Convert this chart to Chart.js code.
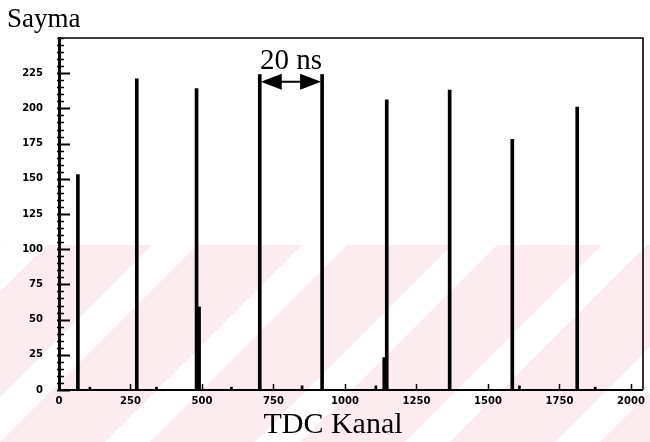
<!DOCTYPE html>
<html>
<head>
<meta charset="utf-8">
<script src="https://cdn.jsdelivr.net/npm/chart.js@4.4.1/dist/chart.umd.min.js"></script>
<style>
  html, body { margin: 0; padding: 0; background: #fff; }
  canvas { display: block; }
</style>
</head>
<body>
<canvas id="c" width="650" height="442"></canvas>
<script>
// TDC spectrum: counts per channel
const peakChannels = [66, 272, 481, 702, 920, 1146, 1366, 1585, 1812];
const peakCounts   = [153, 221, 214, 224, 224, 206, 213, 178, 201];
const shoulderChannels = [488, 1139];
const shoulderCounts   = [59, 23];
const bumpChannels = [108, 341, 603, 850, 1108, 1610, 1875];
const bumpCounts   = [2, 2, 2, 3, 3, 3, 2];

const xTickValues = [0, 250, 500, 750, 1000, 1250, 1500, 1750, 2000];
const yTickValues = [0, 25, 50, 75, 100, 125, 150, 175, 200, 225];
const yMinorStep = 5;

const yTitle = 'Sayma';
const xTitle = 'TDC Kanal';
const spanLabel = '20 ns';
const spanFrom = 702, spanTo = 920, spanLevel = 224, arrowLevel = 219;

const toPoints = (xs, ys) => xs.map((v, i) => ({ x: v, y: ys[i] }));

// pale diagonal background stripes in the lower part of the page
const backdrop = {
  id: 'backdrop',
  beforeDraw(chart) {
    const { ctx, width, height } = chart;
    ctx.save();
    ctx.fillStyle = '#fff';
    ctx.fillRect(0, 0, width, height);
    ctx.beginPath();
    ctx.rect(0, 245, width, height - 245);
    ctx.clip();
    ctx.fillStyle = '#fdecef';
    const period = 150, band = 105;
    for (let s = -600; s < width + 600; s += period) {
      ctx.beginPath();
      ctx.moveTo(s, height);
      ctx.lineTo(s + band, height);
      ctx.lineTo(s + band + 200, height - 200);
      ctx.lineTo(s + 200, height - 200);
      ctx.closePath();
      ctx.fill();
    }
    ctx.restore();
  }
};

// frame, inward ticks, titles and the 20 ns span marker
const decorations = {
  id: 'decorations',
  afterDatasetsDraw(chart) {
    const { ctx, chartArea: a, scales: { x, y } } = chart;
    ctx.save();
    ctx.strokeStyle = '#000';
    ctx.lineCap = 'butt';

    // top and right frame
    ctx.lineWidth = 1.6;
    ctx.beginPath();
    ctx.moveTo(a.left, a.top); ctx.lineTo(a.right, a.top); ctx.lineTo(a.right, a.bottom);
    ctx.stroke();

    // y ticks (major every 25, minor every 5)
    for (let v = 0; v <= y.max; v += yMinorStep) {
      const py = Math.round(y.getPixelForValue(v)) + 0.5;
      const major = yTickValues.includes(v);
      ctx.lineWidth = major ? 2 : 1.5;
      ctx.beginPath();
      ctx.moveTo(a.left - 2, py);
      ctx.lineTo(a.left + (major ? 11 : 5), py);
      ctx.stroke();
    }
    // x ticks
    ctx.lineWidth = 1.5;
    xTickValues.forEach(v => {
      const px = Math.round(x.getPixelForValue(v)) + 0.5;
      ctx.beginPath();
      ctx.moveTo(px, a.bottom);
      ctx.lineTo(px, a.bottom - 6);
      ctx.stroke();
    });

    // span marker
    const x1 = x.getPixelForValue(spanFrom), x2 = x.getPixelForValue(spanTo);
    const yTop = y.getPixelForValue(spanLevel), yArr = y.getPixelForValue(arrowLevel);
    ctx.lineWidth = 2;
    ctx.beginPath();
    ctx.moveTo(x1, yTop); ctx.lineTo(x1, yArr + 14);
    ctx.moveTo(x2, yTop); ctx.lineTo(x2, yArr + 14);
    ctx.moveTo(x1 + 10, yArr); ctx.lineTo(x2 - 10, yArr);
    ctx.stroke();
    ctx.fillStyle = '#000';
    ctx.beginPath();
    ctx.moveTo(x1 + 1, yArr); ctx.lineTo(x1 + 22, yArr - 8); ctx.lineTo(x1 + 22, yArr + 8); ctx.closePath();
    ctx.moveTo(x2 - 1, yArr); ctx.lineTo(x2 - 22, yArr - 8); ctx.lineTo(x2 - 22, yArr + 8); ctx.closePath();
    ctx.fill();

    ctx.font = '29px "Liberation Serif", "Times New Roman", serif';
    ctx.textAlign = 'center';
    ctx.textBaseline = 'alphabetic';
    ctx.fillText(spanLabel, (x1 + x2) / 2, yArr - 13);

    // axis titles
    ctx.textAlign = 'left';
    ctx.font = '27px "Liberation Serif", "Times New Roman", serif';
    ctx.fillText(yTitle, 7, 27);
    ctx.textAlign = 'center';
    ctx.font = '30px "Liberation Serif", "Times New Roman", serif';
    ctx.fillText(xTitle, 333, 433);
    ctx.restore();
  }
};

const tickFont = { family: '"DejaVu Sans", sans-serif', size: 10, weight: 'bold' };

new Chart(document.getElementById('c'), {
  type: 'bar',
  data: {
    datasets: [
      { data: toPoints(peakChannels, peakCounts), backgroundColor: '#000', barThickness: 3 },
      { data: toPoints(shoulderChannels, shoulderCounts), backgroundColor: '#000', barThickness: 4 },
      { data: toPoints(bumpChannels, bumpCounts), backgroundColor: '#000', barThickness: 2 }
    ]
  },
  options: {
    responsive: false,
    animation: false,
    layout: { padding: { top: 38, right: 5, left: 0, bottom: 0 } },
    plugins: { legend: { display: false }, tooltip: { enabled: false }, title: { display: false } },
    datasets: { bar: { grouped: false } },
    scales: {
      x: {
        type: 'linear',
        offset: false,
        min: 0,
        max: 2042,
        afterBuildTicks: s => { s.ticks = xTickValues.map(v => ({ value: v })); },
        afterFit: s => { s.height = 52; },
        grid: { display: false, drawTicks: false, offset: false },
        border: { display: true, color: '#000', width: 2 },
        ticks: { color: '#000', font: tickFont, padding: 5, maxRotation: 0, autoSkip: false, callback: v => String(v) }
      },
      y: {
        type: 'linear',
        min: 0,
        max: 250,
        afterBuildTicks: s => { s.ticks = yTickValues.map(v => ({ value: v })); },
        afterFit: s => { s.width = 59; },
        grid: { display: false, drawTicks: false },
        border: { display: true, color: '#000', width: 3 },
        ticks: { color: '#000', font: tickFont, padding: 16, callback: v => String(v) }
      }
    }
  },
  plugins: [backdrop, decorations]
});
</script>
</body>
</html>
